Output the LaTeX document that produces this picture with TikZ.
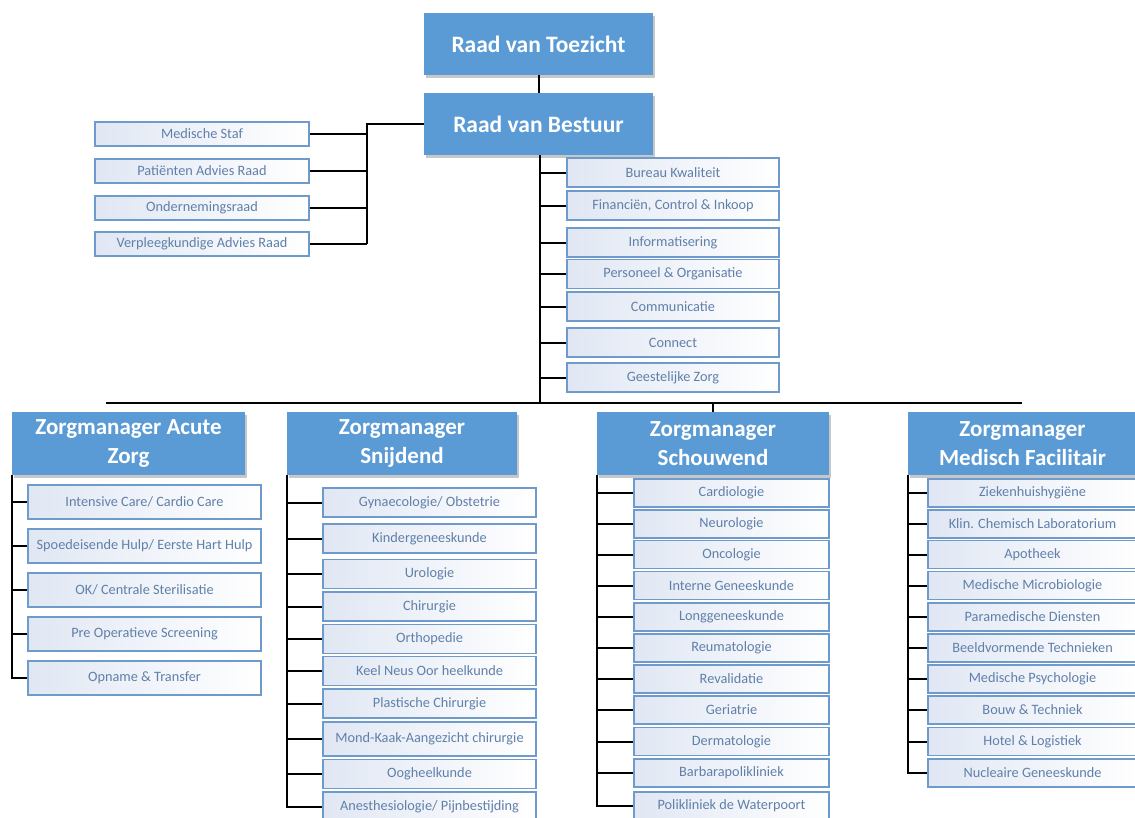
\documentclass[tikz,border=0pt]{standalone}
\usepackage{fontspec}
\setmainfont{Carlito}
\usetikzlibrary{shadows}
\definecolor{hdrblue}{HTML}{5B9BD5}
\definecolor{subedge}{HTML}{6E9BCB}
\definecolor{subtext}{HTML}{6080AA}
\definecolor{subleft}{HTML}{E0E7F3}
\begin{document}
\begin{tikzpicture}[x=1pt,y=-1pt,
  hdr/.style={fill=hdrblue, text=white, font=\fontsize{23.5}{28}\selectfont\bfseries,
    inner sep=0pt, align=center,
    drop shadow={shadow xshift=1.5pt, shadow yshift=-2.5pt, fill=black, opacity=0.22}},
  top/.style={hdr, minimum width=229pt, minimum height=62pt},
  zm/.style={hdr, font=\fontsize{23}{29}\selectfont\bfseries, minimum height=63pt},
  sub/.style={draw=subedge, line width=1.3pt, left color=subleft, right color=white,
    text=subtext, font=\fontsize{14.3}{16}\selectfont, inner sep=0pt},
  lsub/.style={sub, minimum width=214pt, minimum height=24pt},
  rsub/.style={sub, minimum width=212pt, minimum height=29pt},
  asub/.style={sub, minimum width=233pt, minimum height=34pt},
  ssub/.style={sub, minimum width=213pt, minimum height=29pt},
  csub/.style={sub, minimum width=195pt, minimum height=28pt},
  fsub/.style={sub, minimum width=209pt, minimum height=28pt},
  link/.style={line width=2pt, black}]
\useasboundingbox (0,0) rectangle (1135,817);
\clip (0,0) rectangle (1135,817);
\fill[white] (0,0) rectangle (1135,817);

% top
\node[top] (rvt) at (538.5,44) {Raad van Toezicht};
\node[top] (rvb) at (538.5,124) {Raad van Bestuur};

% left advisory
\node[lsub] (ms)  at (202,134) {Medische Staf};
\node[lsub] (par) at (202,171) {Patiënten Advies Raad};
\node[lsub] (or)  at (202,208) {Ondernemingsraad};
\node[lsub] (var) at (202,244) {Verpleegkundige Advies Raad};

% right staff
\node[rsub] (bk)  at (673,172.5) {Bureau Kwaliteit};
\node[rsub] (fci) at (673,205.5) {Financiën, Control \& Inkoop};
\node[rsub] (inf) at (673,242.5) {Informatisering};
\node[rsub] (po)  at (673,274) {Personeel \& Organisatie};
\node[rsub] (com) at (673,306.5) {Communicatie};
\node[rsub] (con) at (673,342.5) {Connect};
\node[rsub] (gz)  at (673,377.5) {Geestelijke Zorg};

% zorgmanagers
\node[zm, minimum width=233pt] (za)  at (128.5,443.5) {Zorgmanager Acute\\Zorg};
\node[zm, minimum width=230pt] (zsn) at (402,443.5) {Zorgmanager\\Snijdend};
\node[zm, minimum width=232pt] (zs)  at (713,443.5) {Zorgmanager\\Schouwend};
\node[zm, minimum width=229pt] (zf)  at (1022.5,443.5) {Zorgmanager\\Medisch Facilitair};

% acute
\node[asub] (a1) at (144.5,502) {Intensive Care/ Cardio Care};
\node[asub] (a2) at (144.5,546) {Spoedeisende Hulp/ Eerste Hart Hulp};
\node[asub] (a3) at (144.5,590) {OK/ Centrale Sterilisatie};
\node[asub] (a4) at (144.5,634) {Pre Operatieve Screening};
\node[asub] (a5) at (144.5,678) {Opname \& Transfer};

% snijdend
\node[ssub] (s1)  at (429.5,502.5) {Gynaecologie/ Obstetrie};
\node[ssub] (s2)  at (429.5,538.5) {Kindergeneeskunde};
\node[ssub] (s3)  at (429.5,574) {Urologie};
\node[ssub] (s4)  at (429.5,606.5) {Chirurgie};
\node[ssub] (s5)  at (429.5,639) {Orthopedie};
\node[ssub] (s6)  at (429.5,671) {Keel Neus Oor heelkunde};
\node[ssub] (s7)  at (429.5,703.5) {Plastische Chirurgie};
\node[ssub, minimum height=34pt] (s8) at (429.5,739) {Mond-Kaak-Aangezicht chirurgie};
\node[ssub] (s9)  at (429.5,774) {Oogheelkunde};
\node[ssub] (s10) at (429.5,806.5) {Anesthesiologie/ Pijnbestijding};

% schouwend
\node[csub] (c1)  at (731.5,493) {Cardiologie};
\node[csub] (c2)  at (731.5,524) {Neurologie};
\node[csub] (c3)  at (731.5,554.5) {Oncologie};
\node[csub] (c4)  at (731.5,585.5) {Interne Geneeskunde};
\node[csub] (c5)  at (731.5,617) {Longgeneeskunde};
\node[csub] (c6)  at (731.5,648) {Reumatologie};
\node[csub] (c7)  at (731.5,679) {Revalidatie};
\node[csub] (c8)  at (731.5,710) {Geriatrie};
\node[csub] (c9)  at (731.5,741.5) {Dermatologie};
\node[csub] (c10) at (731.5,773) {Barbarapolikliniek};
\node[csub] (c11) at (731.5,806) {Polikliniek de Waterpoort};

% facilitair
\node[fsub] (f1)  at (1032.5,493) {Ziekenhuishygiëne};
\node[fsub] (f2)  at (1032.5,524) {Klin. Chemisch Laboratorium};
\node[fsub] (f3)  at (1032.5,554.5) {Apotheek};
\node[fsub] (f4)  at (1032.5,585.5) {Medische Microbiologie};
\node[fsub] (f5)  at (1032.5,617) {Paramedische Diensten};
\node[fsub] (f6)  at (1032.5,648) {Beeldvormende Technieken};
\node[fsub] (f7)  at (1032.5,679) {Medische Psychologie};
\node[fsub] (f8)  at (1032.5,710) {Bouw \& Techniek};
\node[fsub] (f9)  at (1032.5,741.5) {Hotel \& Logistiek};
\node[fsub] (f10) at (1032.5,773) {Nucleaire Geneeskunde};

% connectors
\draw[link] (rvt) -- (rvb);
\coordinate (lj) at (367,124);
\draw[link] (rvb.west) -- (lj) -- (lj |- var.east);
\foreach \n in {ms,par,or,var} \draw[link] (\n.east) -- (\n.east -| lj);

\coordinate (rt) at (540,403);
\draw[link] (rt |- rvb.south) -- (rt);
\foreach \n in {bk,fci,inf,po,com,con,gz} \draw[link] (\n.west) -- (\n.west -| rt);

\coordinate (barL) at (106,403);
\coordinate (barR) at (1022,403);
\draw[link] (barL) -- (barR);
\draw[link] (zs.north |- barL) -- (zs.north);

\draw[link] (za.south west) -- (za.south west |- a5.west) -- (a5.west);
\foreach \n in {a1,a2,a3,a4} \draw[link] (\n.west -| za.south west) -- (\n.west);

\draw[link] (zsn.south west) -- (zsn.south west |- s10.west) -- (s10.west);
\foreach \n in {s1,s2,s3,s4,s5,s6,s7,s8,s9} \draw[link] (\n.west -| zsn.south west) -- (\n.west);

\draw[link] (zs.south west) -- (zs.south west |- c11.west) -- (c11.west);
\foreach \n in {c1,c2,c3,c4,c5,c6,c7,c8,c9,c10} \draw[link] (\n.west -| zs.south west) -- (\n.west);

\draw[link] (zf.south west) -- (zf.south west |- f10.west) -- (f10.west);
\foreach \n in {f1,f2,f3,f4,f5,f6,f7,f8,f9} \draw[link] (\n.west -| zf.south west) -- (\n.west);
\end{tikzpicture}
\end{document}
